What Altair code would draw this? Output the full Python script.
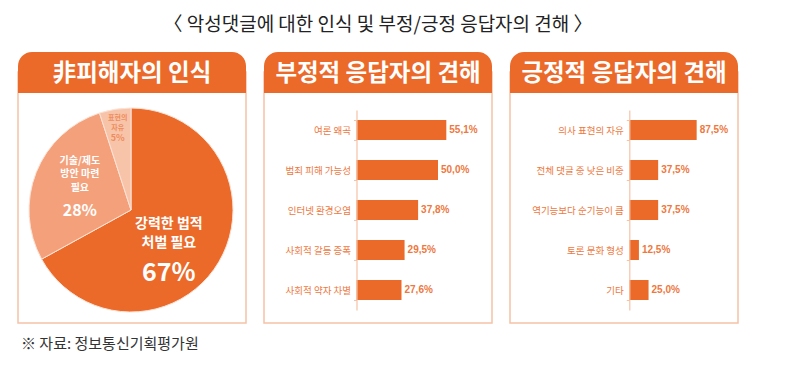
import altair as alt
import pandas as pd

# ---------------- data ----------------
title_text = "〈 악성댓글에 대한 인식 및 부정/긍정 응답자의 견해 〉"
source_text = "※ 자료:  정보통신기획평가원"
panel_titles = ["非피해자의 인식", "부정적 응답자의 견해", "긍정적 응답자의 견해"]

pie_names = ["강력한 법적\n처벌 필요", "기술/제도\n방안 마련\n필요", "표현의\n자유"]
pie_values = [67, 28, 5]

neg_categories = ["여론 왜곡", "범죄 피해 가능성", "인터넷 환경오염", "사회적 갈등 증폭", "사회적 약자 차별"]
neg_values = [55.1, 50.0, 37.8, 29.5, 27.6]

pos_categories = ["의사 표현의 자유", "전체 댓글 중 낮은 비중", "역기능보다 순기능이 큼", "토론 문화 형성", "기타"]
pos_values = [87.5, 37.5, 37.5, 12.5, 25.0]

# ---------------- style ----------------
ORANGE = "#EB6A2A"
LABEL_ORANGE = "#EE7840"
BORDER = "#F6C2A6"
PIE_COLORS = ["#EB6A2A", "#F4A17B", "#F8C4A9"]
FONT = "Noto Sans CJK KR"
PW, PH = 228, 271
HEADER_H = 41

one = pd.DataFrame({"k": [0]})


def frame(title):
    border = alt.Chart(one).mark_rect(fill="white", stroke=BORDER, strokeWidth=1.5).encode(
        x=alt.value(0), x2=alt.value(PW), y=alt.value(20), y2=alt.value(PH))
    header = alt.Chart(one).mark_rect(color=ORANGE, cornerRadiusTopLeft=14, cornerRadiusTopRight=14).encode(
        x=alt.value(0), x2=alt.value(PW), y=alt.value(0), y2=alt.value(HEADER_H))
    htext = alt.Chart(one).mark_text(font=FONT, fontSize=23.5, fontWeight="bold", color="white",
                                     baseline="middle").encode(
        x=alt.value(PW / 2), y=alt.value(HEADER_H / 2 + 1), text=alt.value(title))
    return [border, header, htext]


# ---------------- panel 1: pie ----------------
cx, cy = 113, 158
pie_df = pd.DataFrame({"name": pie_names, "value": pie_values, "idx": list(range(len(pie_values)))})
theta_scale = alt.Scale(domain=[0, 100])
pie_base = alt.Chart(pie_df)

arc = pie_base.mark_arc(outerRadius=102, stroke="#FCE3D6", strokeWidth=1).encode(
    theta=alt.Theta("value:Q", stack=True, scale=theta_scale),
    order=alt.Order("idx:Q"),
    color=alt.Color("name:N", scale=alt.Scale(domain=pie_names, range=PIE_COLORS), legend=None),
    x=alt.value(cx), y=alt.value(cy))

lab_base = pie_base.transform_window(
    cum="sum(value)", sort=[alt.SortField("idx")]
).transform_calculate(mid="datum.cum - datum.value / 2", pct="datum.value + '%'")


def pie_label(i, r, name_dy, pct_dy, name_size, line_h, pct_size, color):
    b = lab_base.transform_filter(alt.datum.idx == i)
    enc = dict(theta=alt.Theta("mid:Q", stack=False, scale=theta_scale), radius=alt.value(r),
               x=alt.value(cx), y=alt.value(cy))
    name = b.mark_text(font=FONT, fontSize=name_size, fontWeight="bold", color=color, lineBreak="\n",
                       lineHeight=line_h, baseline="middle", dy=name_dy).encode(text="name:N", **enc)
    pct = b.mark_text(font=FONT, fontSize=pct_size, fontWeight="bold", color=color, baseline="middle",
                      dy=pct_dy).encode(text="pct:N", **enc)
    return [name, pct]


source = alt.Chart(one).mark_text(font=FONT, fontSize=15, color="#333333", align="left",
                                  baseline="middle").encode(
    x=alt.value(3), y=alt.value(292), text=alt.value(source_text))

panel1 = alt.layer(
    *frame(panel_titles[0]), arc,
    *pie_label(0, 44, -8, 41, 14, 19, 25, "white"),
    *pie_label(1, 55, -29, 21, 10, 13.5, 16, "white"),
    *pie_label(2, 85, -8, 12, 7, 10, 9, "#EF8C5C"),
    source,
).properties(width=PW, height=PH)


# ---------------- bar panels ----------------
def bar_panel(title, cats, vals, axis_x, scale_len):
    df = pd.DataFrame({"cat": cats, "value": vals})
    xs = alt.Scale(domain=[0, 100], range=[axis_x, axis_x + scale_len])
    ys = alt.Scale(domain=cats, range=[58, 258], paddingInner=0.5, paddingOuter=0.25)
    base = alt.Chart(df).encode(
        y=alt.Y("cat:N", sort=cats, scale=ys,
                axis=alt.Axis(title=None, orient="left", offset=-axis_x, domainColor=BORDER,
                              domainWidth=1.2, tickColor=BORDER, tickSize=3, tickBand="extent",
                              labelPadding=3, labelFont=FONT, labelFontSize=9.5,
                              labelColor=LABEL_ORANGE, labelLimit=200, zindex=2)))
    bars = base.mark_bar(color=ORANGE).encode(x=alt.X("value:Q", scale=xs, axis=None))
    labels = base.transform_calculate(
        lbl="replace(format(datum.value, '.1f'), '.', ',') + '%'"
    ).mark_text(align="left", baseline="middle", dx=3, font="Liberation Sans", fontSize=10,
                fontWeight="bold", color=LABEL_ORANGE).encode(
        x=alt.X("value:Q", scale=xs, axis=None), text="lbl:N")
    return alt.layer(*frame(title), bars, labels).properties(width=PW, height=PH)


panel2 = bar_panel(panel_titles[1], neg_categories, neg_values, 92.5, 163)
panel3 = bar_panel(panel_titles[2], pos_categories, pos_values, 119.3, 77)

chart = alt.hconcat(panel1, panel2, panel3, spacing=16).properties(
    title=alt.TitleParams(text=title_text, anchor="middle", fontSize=19, font=FONT,
                          fontWeight="normal", color="#222222", offset=12),
    padding={"left": 9, "top": 8, "right": 0, "bottom": 0},
).configure_view(stroke=None)

chart.save("out.html", embed_options={"renderer": "svg", "actions": False})
